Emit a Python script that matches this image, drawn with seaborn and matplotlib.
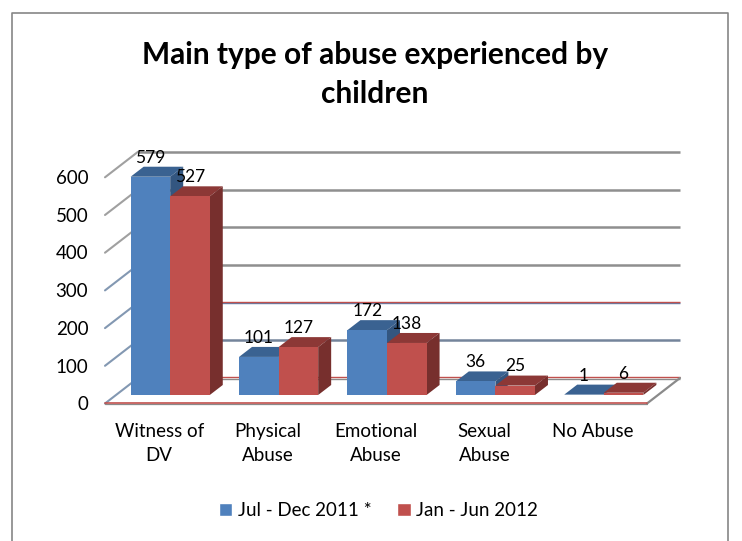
import matplotlib
matplotlib.use("Agg")
import matplotlib.pyplot as plt
from matplotlib.patches import Polygon, Rectangle
from matplotlib.lines import Line2D
import pandas as pd
import seaborn as sns

categories = ["Witness of\nDV", "Physical\nAbuse", "Emotional\nAbuse", "Sexual\nAbuse", "No Abuse"]
series_names = ["Jul - Dec 2011 *", "Jan - Jun 2012"]
jul_dec_2011 = [579, 101, 172, 36, 1]
jan_jun_2012 = [527, 127, 138, 25, 6]
y_ticks = [0, 100, 200, 300, 400, 500, 600]

W, H = 742, 541
BLUE, RED = "#4f81bd", "#c0504d"
DEPTH = {BLUE: ("#3a6291", "#335680"), RED: ("#8c3836", "#772f2d")}

sns.set_theme(style="white")
plt.rcParams["font.family"] = ["Lato", "DejaVu Sans"]
plt.rcParams["text.color"] = "black"
plt.rcParams["xtick.labelcolor"] = "black"
plt.rcParams["ytick.labelcolor"] = "black"
FS = 13.5

fig = plt.figure(figsize=(W / 100, H / 100), dpi=100, facecolor="white")

def px_axes(x0, x1, ytop, ybot, **kw):
    return fig.add_axes([x0 / W, 1 - ybot / H, (x1 - x0) / W, (ybot - ytop) / H], **kw)

fig.add_artist(Line2D([12.5 / W, 12.5 / W, 727.5 / W, 727.5 / W],
                      [0, 1 - 12.5 / H, 1 - 12.5 / H, 0], color="#868686", lw=1.2))

# front plane axes: tick labels and category labels
front = px_axes(105, 647, 177, 403.5)
front.set_xlim(-0.5, 4.5)
front.set_ylim(0, 600)
front.set_xticks(range(len(categories)))
front.set_xticklabels(categories, fontsize=FS, linespacing=1.52, color="black")
front.set_yticks(y_ticks)
front.set_yticklabels([str(v) for v in y_ticks], fontsize=FS, color="black")
front.tick_params(axis="x", length=0, pad=14)
front.tick_params(axis="y", length=0, pad=12)
front.patch.set_alpha(0)
for s in front.spines.values():
    s.set_visible(False)

# bar plane axes
ax = px_axes(116, 658, 168.8, 395)
ax.patch.set_alpha(0)
df = pd.DataFrame({
    "category": categories * 2,
    "period": [series_names[0]] * 5 + [series_names[1]] * 5,
    "value": jul_dec_2011 + jan_jun_2012,
})
sns.barplot(data=df, x="category", y="value", hue="period", hue_order=series_names,
            order=categories, palette=[BLUE, RED], saturation=1, width=0.73, gap=0,
            ax=ax, zorder=3, linewidth=0)
ax.set_xlim(-0.5, 4.5)
ax.set_ylim(0, 600)
ax.set_xticks([])
ax.set_yticks([])
ax.set_xlabel("")
ax.set_ylabel("")
for s in ax.spines.values():
    s.set_visible(False)

ux = 5 / 542        # category units per pixel
uy = 600 / 226.2    # value units per pixel

def X(px):
    return -0.5 + (px - 116) * ux

def Y(value, py_off):
    return value - py_off * uy  # positive py_off moves down

# walls and floor, drawn in the bar plane's value scale
grid_style = {600: ["#8f8f8f"], 500: ["#8f8f8f"], 400: ["#8f8f8f"], 300: ["#8f8f8f"],
              200: ["#5f7fab", RED], 100: ["#74849b"], 0: ["#8a8a8a", RED]}
diag_col = {600: "#a0a0a0", 500: "#a0a0a0", 400: "#a0a0a0", 300: "#8398b2", 200: "#8398b2", 100: "#8398b2", 0: "#8398b2"}
for v in y_ticks:
    yb = Y(v, -17)   # back wall, 17 px above bar plane
    yf = Y(v, 8.5)   # front plane, 8.5 px below bar plane
    ax.plot([X(105), X(138)], [yf, yb], color=diag_col[v], lw=1.5, zorder=1, clip_on=False)
    cols = grid_style[v]
    for i, c in enumerate(cols):
        off = (0.8 * uy if i else -0.6 * uy) if len(cols) > 1 else 0
        ax.plot([X(138), X(680)], [yb + off] * 2, color=c,
                lw=1.0 if len(cols) > 1 else 1.8, zorder=1, clip_on=False, solid_capstyle="butt")
ax.plot([X(647), X(680)], [Y(0, 8.5), Y(0, -17)], color="#8a8a8a", lw=1.6, zorder=1, clip_on=False)
ax.plot([X(105), X(647)], [Y(0, 9.4)] * 2, color="#8a8a8a", lw=0.9, zorder=1, clip_on=False)
ax.plot([X(105), X(647)], [Y(0, 8.4)] * 2, color=RED, lw=1.2, zorder=1, clip_on=False)

# 3-D depth of every bar, from the bars themselves
dx, dy = 13 * ux, 10 * uy
for container, col, z in zip(ax.containers[:2], [BLUE, RED], [2.1, 2.2]):
    top_c, side_c = DEPTH[col]
    for bar in container:
        x0, w, h = bar.get_x(), bar.get_width(), bar.get_height()
        ax.add_patch(Polygon([(x0, h), (x0 + dx, h + dy), (x0 + w + dx, h + dy), (x0 + w, h)],
                             closed=True, fc=top_c, ec="none", zorder=z, clip_on=False))
        ax.add_patch(Polygon([(x0 + w, 0), (x0 + w + dx, dy), (x0 + w + dx, h + dy), (x0 + w, h)],
                             closed=True, fc=side_c, ec="none", zorder=z, clip_on=False))
    ax.bar_label(container, padding=8, fontsize=FS - 1.0, color="black", zorder=6, clip_on=False)

handles = [Rectangle((0, 0), 1, 1, fc=BLUE), Rectangle((0, 0), 1, 1, fc=RED)]
if ax.get_legend():
    ax.get_legend().remove()
fig.legend(handles, series_names, loc="center", bbox_to_anchor=(378.5 / W, 1 - 510.5 / H),
           ncol=2, frameon=False, fontsize=FS, handlelength=0.72, handleheight=0.72,
           handletextpad=0.3, columnspacing=1.35, labelcolor="black")

fig.text(375 / W, 1 - 55 / H, "Main type of abuse experienced by", ha="center", va="center",
         fontsize=21.5, fontweight="bold", color="black")
fig.text(375 / W, 1 - 94 / H, "children", ha="center", va="center",
         fontsize=21.5, fontweight="bold", color="black")

fig.savefig("out.png", dpi=100, facecolor="white")
